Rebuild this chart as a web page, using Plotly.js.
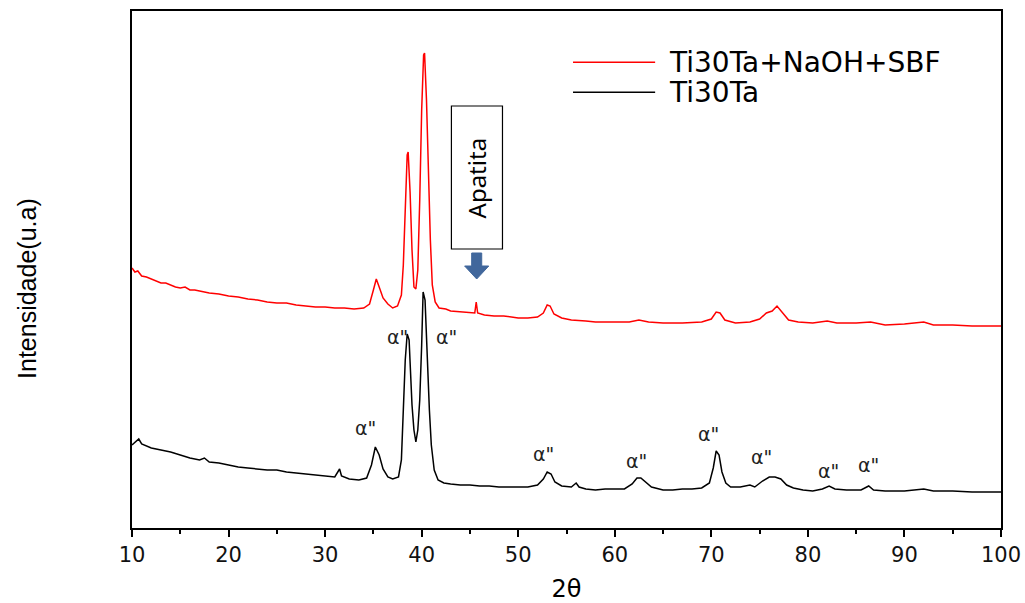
<!DOCTYPE html>
<html>
<head>
<meta charset="utf-8">
<script src="https://cdn.plot.ly/plotly-3.0.1.min.js"></script>
<style>html,body{margin:0;padding:0;background:#fff;}#chart{width:1025px;height:603px;}</style>
</head>
<body>
<div id="chart"></div>
<script>
// Ti30Ta+NaOH+SBF (red), intensity in arbitrary units
const redX = [10.0,10.3,10.6,11.0,11.5,12.0,12.5,13.0,13.5,14.0,14.5,15.0,15.5,16.0,16.5,17.0,18.0,19.0,20.0,21.0,22.0,23.0,24.0,25.0,26.0,27.0,28.0,29.0,30.0,31.0,32.0,33.0,34.0,34.6,35.0,35.3,35.6,36.0,36.5,37.0,37.5,37.9,38.1,38.3,38.5,38.6,38.8,39.0,39.2,39.4,39.6,39.8,40.0,40.2,40.3,40.5,40.7,40.9,41.1,41.4,41.8,42.5,43.0,44.0,45.0,45.5,45.65,45.8,46.5,47.5,48.5,50.0,51.0,52.0,52.6,53.0,53.3,53.7,54.5,55.5,57.0,58.0,60.0,61.5,62.5,63.5,65.0,67.0,69.0,70.0,70.5,70.9,71.4,72.5,74.0,75.0,75.7,76.3,76.8,77.3,78.0,79.0,80.5,82.0,83.0,85.0,86.5,88.0,90.0,92.0,93.0,95.0,97.0,100.0];
const redY = [260,256,257,252,251,249,247,245,245,243,241,240,241,238,238,237,235,234,232,231,229,228,226,225,225,223,222,221,221,220,220,219,220,224,238,249,241,230,224,220,222,233,263,318,373,376,336,278,241,239,258,328,418,473,475,428,353,288,243,226,220,219,217,216,215,215,226,215,213,212,212,210,210,211,215,223,222,214,210,208,207,206,206,206,208,206,205,205,206,209,216,215,208,205,206,209,215,217,222,216,208,206,205,207,205,205,206,203,204,206,203,203,202,202];

// Ti30Ta (black)
const blackX = [10.0,10.4,10.7,11.0,11.5,12.0,13.0,14.0,15.0,16.0,17.0,17.5,18.0,19.0,20.0,21.0,22.0,23.0,24.0,25.0,26.0,27.0,28.0,29.0,30.0,31.0,31.5,31.7,32.5,33.5,34.3,34.8,35.2,35.6,36.0,36.5,37.0,37.6,37.9,38.1,38.3,38.5,38.7,38.8,39.0,39.2,39.4,39.6,39.8,40.0,40.15,40.35,40.6,40.8,41.0,41.3,41.7,42.3,43.0,44.0,45.0,46.0,47.0,48.0,49.0,50.0,51.0,52.0,52.6,53.0,53.4,53.8,54.5,55.5,56.0,56.3,57.0,58.0,59.0,60.0,61.0,61.8,62.3,62.7,63.2,63.8,65.0,66.0,67.0,68.0,69.0,69.8,70.2,70.5,70.8,71.1,71.5,72.0,73.0,74.0,74.5,75.3,76.0,76.6,77.2,77.8,78.5,79.5,80.5,81.5,82.2,82.8,84.0,85.5,86.3,86.8,88.0,90.0,92.0,93.0,95.0,97.0,100.0];
const blackY = [83,87,89,84,82,80,78,76,73,70,68,70,66,65,63,61,60,59,58,58,56,55,54,53,52,51,59,52,49,48,50,63,81,73,59,51,49,51,68,118,168,194,188,166,123,98,86,98,128,183,236,228,163,118,83,58,48,45,44,43,43,42,42,41,41,41,41,43,49,56,54,46,42,41,45,41,39,38,39,39,39,44,50,50,46,41,38,38,39,39,40,45,60,77,73,56,45,41,41,43,41,47,51,51,49,43,40,38,37,39,42,39,38,38,42,38,37,37,39,37,37,36,36];

// alpha'' peak labels
const peakLabelX = [34.16,37.48,42.56,52.62,62.26,69.73,75.22,82.17,86.32];
const peakLabelY = [100,191,191,74,67,94,71,57,63];
const peakLabelText = 'α"';

const seriesNames = ['Ti30Ta+NaOH+SBF','Ti30Ta'];
const tickVals = [10,20,30,40,50,60,70,80,90,100];

// Apatita marker (box + arrow) anchor
const apatitaX = 45.7;
const boxX = [43.08, 48.37];
const boxY = [279, 422];
const arrowTop = 275, arrowNeck = 262, arrowTip = 249;

const FONT = 'Liberation Sans, Arial, sans-serif';
const WIDE = 'DejaVu Sans, sans-serif';

const traces = [
  {x: redX, y: redY, type: 'scatter', mode: 'lines', name: seriesNames[0],
   line: {color: '#ff0000', width: 1.5}, showlegend: false},
  {x: blackX, y: blackY, type: 'scatter', mode: 'lines', name: seriesNames[1],
   line: {color: '#000000', width: 1.5}, showlegend: false}
];

const annotations = peakLabelX.map((x, i) => ({
  x: x, y: peakLabelY[i], xref: 'x', yref: 'y', text: peakLabelText,
  showarrow: false, font: {family: WIDE, size: 19, color: '#222'}
}));

// Apatita text
annotations.push({
  x: (boxX[0] + boxX[1]) / 2, y: (boxY[0] + boxY[1]) / 2, xref: 'x', yref: 'y',
  text: 'Apatita', textangle: -90, showarrow: false,
  font: {family: 'Noto Sans, sans-serif', size: 24, color: '#000'}
});

// Manual legend
const legY = [0.901, 0.843];
const legColors = ['#ff0000', '#000000'];
seriesNames.forEach((n, i) => {
  annotations.push({
    x: 0.6157, y: legY[i], xref: 'paper', yref: 'paper', xanchor: 'left', yanchor: 'middle',
    text: n, showarrow: false, font: {family: WIDE, size: 28, color: '#000'}
  });
});

// Y axis title
annotations.push({
  x: -0.121, y: 0.464, xref: 'paper', yref: 'paper', xanchor: 'center', yanchor: 'middle',
  text: 'Intensidade(u.a)', textangle: -90, showarrow: false,
  font: {family: FONT, size: 25, color: '#000'}
});

const hw = 0.52, hh = 1.25;
const shapes = [
  {type: 'rect', xref: 'x', yref: 'y', x0: boxX[0], x1: boxX[1], y0: boxY[0], y1: boxY[1],
   line: {color: '#000', width: 1.2}, fillcolor: 'rgba(0,0,0,0)'},
  {type: 'path', xref: 'x', yref: 'y',
   path: `M ${apatitaX-hw} ${arrowTop} L ${apatitaX+hw} ${arrowTop} L ${apatitaX+hw} ${arrowNeck} L ${apatitaX+hh} ${arrowNeck} L ${apatitaX} ${arrowTip} L ${apatitaX-hh} ${arrowNeck} L ${apatitaX-hw} ${arrowNeck} Z`,
   fillcolor: '#41679c', line: {color: '#41679c', width: 1}}
];
seriesNames.forEach((n, i) => {
  shapes.push({type: 'line', xref: 'paper', yref: 'paper', x0: 0.5075, x1: 0.602, y0: legY[i], y1: legY[i],
    line: {color: legColors[i], width: 1.5}});
});

const layout = {
  width: 1025, height: 603,
  margin: {l: 132, r: 24, t: 11, b: 75},
  paper_bgcolor: '#fff', plot_bgcolor: '#fff',
  showlegend: false,
  xaxis: {
    range: [10, 100], tickvals: tickVals, ticks: 'outside', ticklen: 7, tickwidth: 2,
    tickcolor: '#000', showline: true, linecolor: '#000', linewidth: 2, mirror: true,
    showgrid: false, zeroline: false,
    tickfont: {family: WIDE, size: 21, color: '#111'},
    minor: {dtick: 5, ticks: 'outside', ticklen: 4, tickwidth: 2, tickcolor: '#000', showgrid: false},
    title: {text: '2θ', font: {family: WIDE, size: 24, color: '#000'}, standoff: 18}
  },
  yaxis: {
    range: [0, 517], showticklabels: false, ticks: '', showgrid: false, zeroline: false,
    showline: true, linecolor: '#000', linewidth: 2, mirror: true
  },
  annotations: annotations,
  shapes: shapes
};

Plotly.newPlot('chart', traces, layout, {displayModeBar: false, staticPlot: true});
</script>
</body>
</html>
